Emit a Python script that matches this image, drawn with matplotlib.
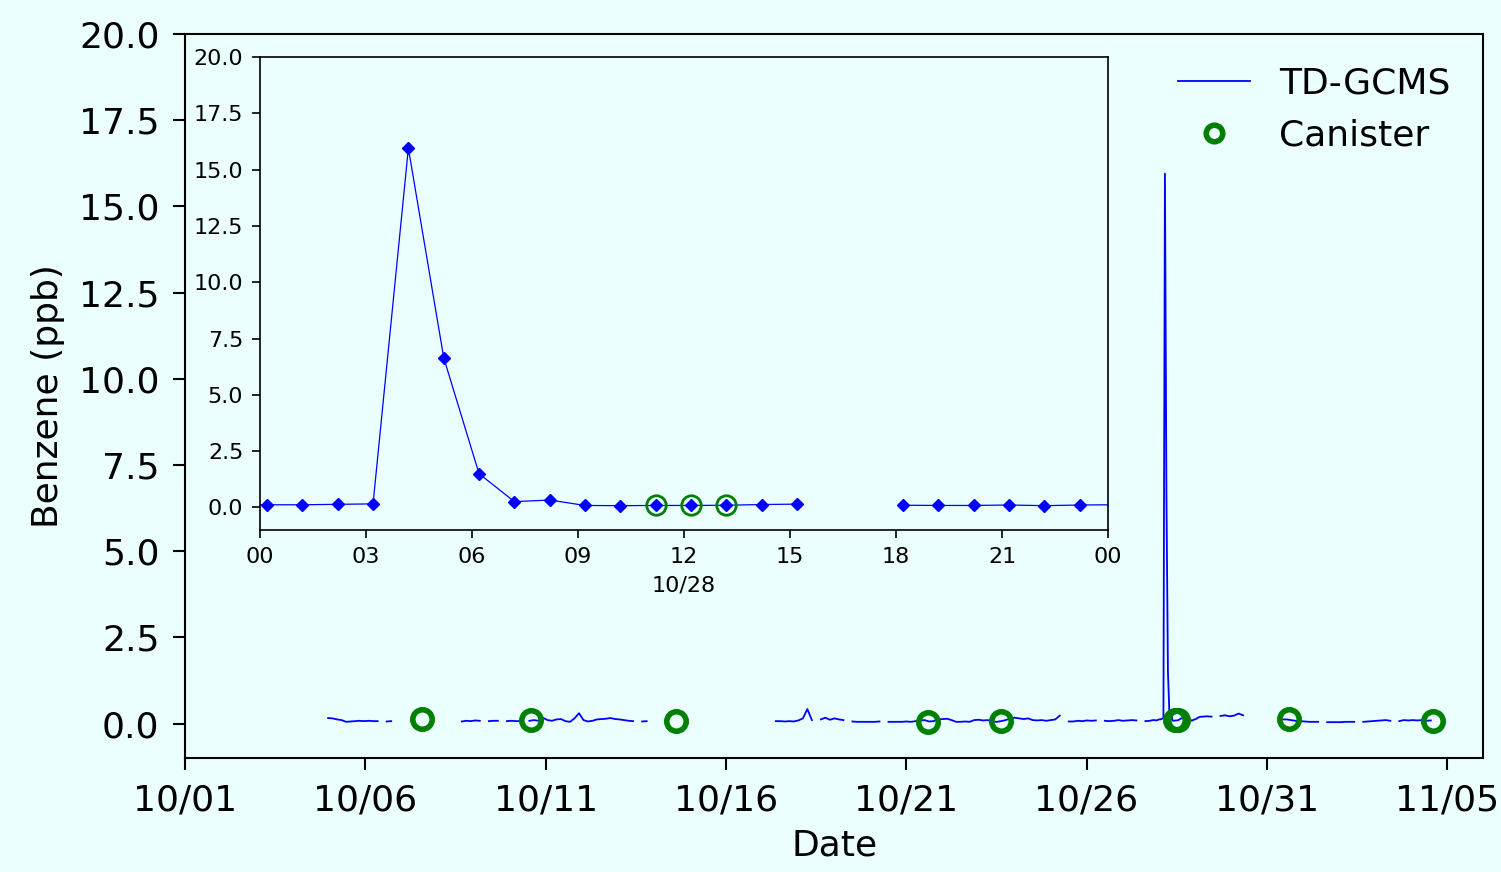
import numpy as np
import pandas as pd
import matplotlib
matplotlib.use("Agg")
import matplotlib.pyplot as plt
import matplotlib.dates as mdates
from matplotlib.ticker import MultipleLocator, FormatStrFormatter

nan = np.nan

# TD-GCMS benzene (ppb), pieces of the record: start time, step in hours, values
seg_a_start, seg_a_step = "2019-10-04 23:12", 3
seg_a_vals = [0.16, 0.15, 0.12, 0.10, 0.05, 0.06, 0.07, 0.08, 0.07, 0.08, 0.07, 0.07, nan, 0.06, 0.07]

seg_b_start, seg_b_step = "2019-10-08 16:12", 3
seg_b_vals = [0.06, 0.08, 0.07, 0.09, 0.08, nan, 0.07, 0.08, 0.08, nan,
              0.07, 0.08, 0.07, 0.07, nan, 0.08, 0.10, 0.08, 0.17, 0.10,
              0.08, 0.12, 0.13, 0.07, 0.05, 0.15, 0.30, 0.10, 0.06, 0.08,
              0.12, 0.13, 0.14, 0.16, 0.13, 0.12, 0.10, 0.08, 0.07, nan, 0.06, 0.07]

seg_c_start, seg_c_step = "2019-10-17 09:12", 3
seg_c_vals = [0.07, 0.07, 0.06, 0.07, 0.06, 0.09, 0.15, 0.42, 0.10, nan,
              0.12, 0.17, 0.11, 0.15, 0.12, 0.10, nan, 0.06, 0.05, 0.05,
              0.05, 0.05, 0.05, 0.06, nan, 0.05, 0.05, 0.05, 0.05, 0.06,
              0.05, 0.07, 0.09, 0.10, 0.06, 0.07, 0.12, 0.13, 0.14, 0.10,
              0.05, 0.05, 0.06, 0.05, 0.10, 0.11, 0.09, 0.10, 0.06, 0.05,
              0.07, 0.10, 0.14, 0.17, 0.15, 0.13, 0.15, 0.10, 0.09, 0.10,
              0.08, 0.10, 0.12, 0.23, nan, 0.06, 0.06, 0.08, 0.07, 0.09,
              0.08, 0.09, nan, 0.08, 0.07, 0.08, 0.10, 0.08, 0.09, 0.10,
              0.09, nan, 0.07, 0.08]

# hourly values around the 10/28 event
seg_h_start, seg_h_step = "2019-10-27 19:12", 1
seg_h_vals = [0.09, 0.10, 0.10, 0.09, 0.10,
              0.12, 0.12, 0.14, 0.16, 15.95, 6.65, 1.50, 0.26, 0.33, 0.09,
              0.08, 0.09, 0.09, 0.10, 0.13, 0.15, nan, nan, 0.10, 0.09,
              0.09, 0.11, 0.08, 0.11,
              0.12, 0.14, 0.17, 0.19, 0.20, 0.20]

seg_e_start, seg_e_step = "2019-10-29 08:12", 3
seg_e_vals = [0.21, 0.20, nan, 0.22, 0.24, 0.21, 0.23, 0.29, 0.24]

seg_d_start, seg_d_step = "2019-10-31 10:12", 3
seg_d_vals = [0.12, 0.12, 0.10, 0.08, 0.07, 0.06, 0.05, 0.05, 0.05, nan,
              0.04, 0.04, 0.04, 0.04, 0.05, 0.05, 0.05, nan, 0.05, 0.06,
              0.07, 0.08, 0.09, 0.10, 0.08, nan, 0.07, 0.10, 0.09, 0.10,
              0.09, 0.10, 0.08, 0.09]

# canister samples
can_times = ["2019-10-07 14:00", "2019-10-10 14:00", "2019-10-14 14:40",
             "2019-10-21 14:40", "2019-10-23 15:00", "2019-10-28 11:12",
             "2019-10-28 12:12", "2019-10-28 13:12", "2019-10-31 14:40",
             "2019-11-04 14:40"]
can_vals = [0.12, 0.10, 0.06, 0.05, 0.08, 0.09, 0.09, 0.09, 0.14, 0.08]


def piece(start, step, vals):
    t = pd.date_range(start, periods=len(vals), freq=f"{step}h")
    return pd.Series(vals, index=t, dtype=float)


groups = [
    [piece(seg_a_start, seg_a_step, seg_a_vals)],
    [piece(seg_b_start, seg_b_step, seg_b_vals)],
    [piece(seg_c_start, seg_c_step, seg_c_vals),
     piece(seg_h_start, seg_h_step, seg_h_vals),
     piece(seg_e_start, seg_e_step, seg_e_vals)],
    [piece(seg_d_start, seg_d_step, seg_d_vals)],
]
parts = []
for g in groups:
    s = pd.concat(g)
    parts.append(s)
    # break the line between pieces
    parts.append(pd.Series([nan], index=[s.index[-1] + pd.Timedelta(minutes=1)]))
gcms = pd.concat(parts)

can = pd.Series(can_vals, index=pd.to_datetime(can_times))

bg = "#EBFFFF"
fig = plt.figure(figsize=(15.01, 8.72), dpi=100, facecolor=bg)
ax = fig.add_axes([0.1233, 0.1307, 0.8648, 0.8303], facecolor=bg)

ax.plot(gcms.index, gcms.values, color="blue", lw=1.3, label="TD-GCMS")
ax.plot(can.index, can.values, "o", ms=14, mfc="none", mec="green", mew=4,
        ls="none", label="Canister")

ax.set_xlim(pd.Timestamp("2019-10-01"), pd.Timestamp("2019-11-06"))
ax.set_ylim(-1, 20)
ticks = pd.date_range("2019-10-01", "2019-11-05", freq="5D")
ax.set_xticks(ticks)
ax.xaxis.set_major_formatter(mdates.DateFormatter("%m/%d"))
ax.yaxis.set_major_locator(MultipleLocator(2.5))
ax.yaxis.set_major_formatter(FormatStrFormatter("%.1f"))
ax.tick_params(labelsize=26, length=8.5, width=1.5, pad=10)
for sp in ax.spines.values():
    sp.set_linewidth(1.5)
ax.set_xlabel("Date", fontsize=26, labelpad=8)
ax.set_ylabel("Benzene (ppb)", fontsize=26, labelpad=10)
ax.legend(loc="upper right", frameon=False, fontsize=26, markerscale=0.85)

# inset: one day around the event
axi = fig.add_axes([0.1732, 0.3922, 0.565, 0.5424], facecolor=bg)
axi.plot(gcms.index, gcms.values, color="blue", lw=0.9, marker="D", ms=6)
axi.plot(can.index, can.values, "o", ms=14, mfc="none", mec="green", mew=2, ls="none")
axi.set_xlim(pd.Timestamp("2019-10-28"), pd.Timestamp("2019-10-29"))
axi.set_ylim(-1, 20)
axi.xaxis.set_major_locator(mdates.HourLocator(byhour=range(0, 24, 3)))
axi.xaxis.set_major_formatter(mdates.DateFormatter("%H"))
axi.yaxis.set_major_locator(MultipleLocator(2.5))
axi.yaxis.set_major_formatter(FormatStrFormatter("%.1f"))
axi.tick_params(labelsize=16, length=6, width=1.2, pad=6)
for sp in axi.spines.values():
    sp.set_linewidth(1.2)
axi.set_xlabel("10/28", fontsize=16, labelpad=6)

fig.savefig("out.png", dpi=100, facecolor=bg)
